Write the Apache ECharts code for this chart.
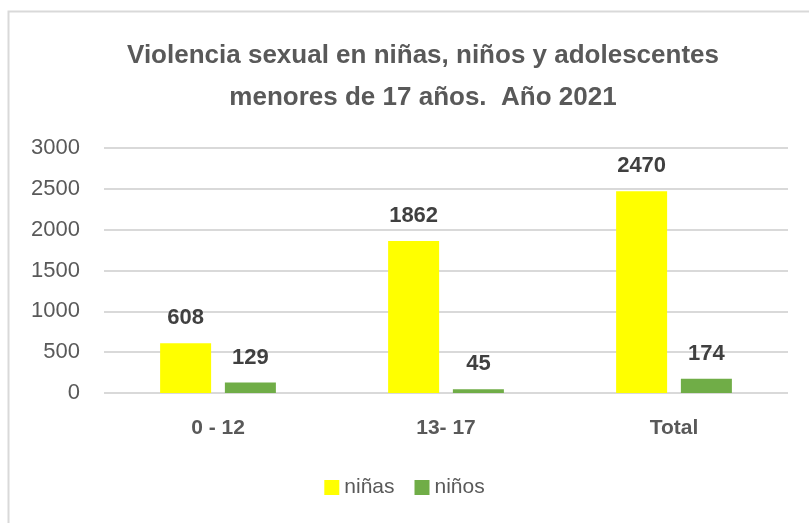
<!DOCTYPE html>
<html lang="es">
<head>
    <meta charset="UTF-8">
    <title>Violencia sexual</title>
    <style>
        * { margin: 0; padding: 0; box-sizing: border-box; }
        body { background: #fff; }
        #chart { width: 809px; height: 523px; }
    </style>
    <script src="https://cdn.jsdelivr.net/npm/echarts@6/dist/echarts.min.js"></script>
</head>
<body>
    <div id="chart"></div>
    <script>
        // datos
        const categories = ['0 - 12', '13- 17', 'Total'];
        const ninas = [608, 1862, 2470];
        const ninos = [129, 45, 174];
        const yTicks = [0, 500, 1000, 1500, 2000, 2500, 3000];

        const chart = echarts.init(document.getElementById('chart'));
        const font = '"Liberation Sans", Arial, sans-serif';

        const labelStyle = {
            show: true,
            position: 'top',
            distance: 14,
            color: '#404040',
            fontSize: 22,
            fontWeight: 'bold',
            fontFamily: font
        };

        chart.setOption({
            animation: false,
            graphic: [{
                type: 'rect',
                shape: { x: 8.5, y: 11.5, width: 820, height: 530 },
                style: { fill: 'none', stroke: '#d9d9d9', lineWidth: 2 }
            }],
            title: {
                text: 'Violencia sexual en niñas, niños y adolescentes\nmenores de 17 años.  Año 2021',
                left: 418,
                top: 30,
                textAlign: 'center',
                textStyle: {
                    color: '#595959',
                    fontSize: 26,
                    fontWeight: 'bold',
                    fontFamily: font,
                    lineHeight: 42
                }
            },
            legend: {
                data: ['niñas', 'niños'],
                bottom: 20,
                left: 'center',
                itemWidth: 15,
                itemHeight: 15,
                itemGap: 20,
                icon: 'rect',
                textStyle: { color: '#595959', fontSize: 21, fontFamily: font }
            },
            grid: { left: 104, right: 21, top: 148, bottom: 130 },
            xAxis: {
                type: 'category',
                data: categories,
                axisLine: { show: false },
                axisTick: { show: false },
                axisLabel: {
                    color: '#595959',
                    fontSize: 21,
                    fontWeight: 'bold',
                    fontFamily: font,
                    margin: 25
                }
            },
            yAxis: {
                type: 'value',
                min: yTicks[0],
                max: yTicks[yTicks.length - 1],
                interval: 500,
                axisLine: { show: false },
                axisTick: { show: false },
                splitLine: { lineStyle: { color: '#d9d9d9', width: 2 } },
                axisLabel: {
                    color: '#595959',
                    fontSize: 22,
                    fontFamily: font,
                    margin: 24,
                    formatter: v => String(v)
                }
            },
            series: [
                {
                    name: 'niñas',
                    type: 'bar',
                    data: ninas,
                    barWidth: 51,
                    barGap: '27%',
                    itemStyle: { color: '#ffff00' },
                    label: labelStyle
                },
                {
                    name: 'niños',
                    type: 'bar',
                    data: ninos,
                    barWidth: 51,
                    itemStyle: { color: '#70ad47' },
                    label: labelStyle
                }
            ]
        });
    </script>
</body>
</html>
